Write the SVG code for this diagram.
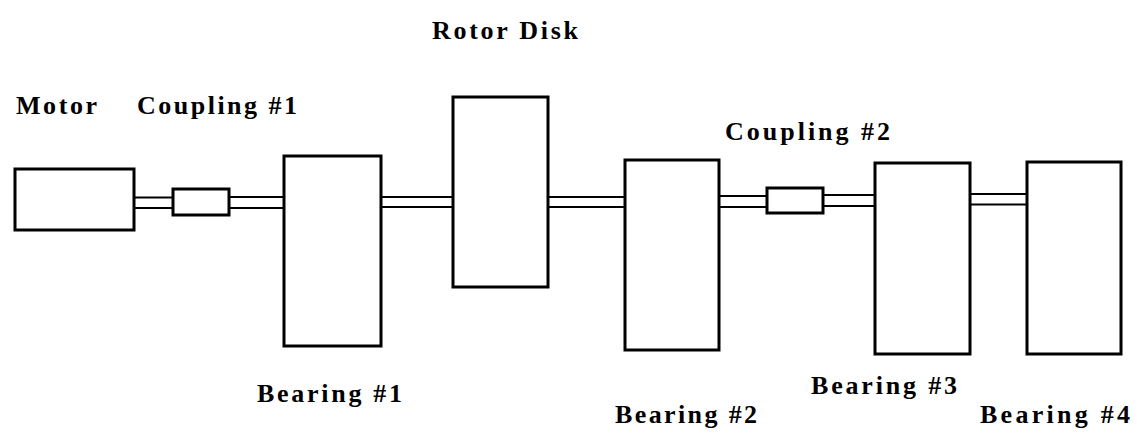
<svg xmlns="http://www.w3.org/2000/svg" width="1137" height="436" viewBox="0 0 1137 436">
<style>
.box{fill:#fff;stroke:#000;stroke-width:3}
.shaft{stroke:#000;stroke-width:2.2;fill:none}
.lbl{font-family:"Liberation Serif","Times New Roman",serif;font-weight:bold;font-size:26px;fill:#000}
</style>
<rect width="1137" height="436" fill="#fff"/>
<g id="connectors">
<path class="shaft" d="M134 197.5H173M134 208H173"/>
<path class="shaft" d="M229 197H284M229 208H284"/>
<path class="shaft" d="M381 197H453M381 207H453"/>
<path class="shaft" d="M548 197H625M548 207H625"/>
<path class="shaft" d="M719 196H767M719 207H767"/>
<path class="shaft" d="M823 195H875M823 206H875"/>
<path class="shaft" d="M970 194H1027M970 204.5H1027"/>
</g>
<g id="motor"><rect class="box" x="15" y="169" width="119" height="61"/><text class="lbl" x="16" y="114" textLength="81" lengthAdjust="spacing">Motor</text></g>
<g id="coupling1"><rect class="box" x="173" y="189" width="56" height="26"/><text class="lbl" x="137" y="114" textLength="160" lengthAdjust="spacing">Coupling #1</text></g>
<g id="bearing1"><rect class="box" x="284" y="156" width="97" height="190"/><text class="lbl" x="257" y="402" textLength="145" lengthAdjust="spacing">Bearing #1</text></g>
<g id="rotor-disk"><rect class="box" x="453" y="97" width="95" height="190"/><text class="lbl" x="432" y="39" textLength="146" lengthAdjust="spacing">Rotor Disk</text></g>
<g id="bearing2"><rect class="box" x="625" y="160" width="94" height="190"/><text class="lbl" x="615" y="423" textLength="142" lengthAdjust="spacing">Bearing #2</text></g>
<g id="coupling2"><rect class="box" x="767" y="188" width="56" height="25"/><text class="lbl" x="725" y="140" textLength="165" lengthAdjust="spacing">Coupling #2</text></g>
<g id="bearing3"><rect class="box" x="875" y="163" width="95" height="191"/><text class="lbl" x="811" y="394" textLength="146" lengthAdjust="spacing">Bearing #3</text></g>
<g id="bearing4"><rect class="box" x="1027" y="162" width="94" height="192"/><text class="lbl" x="980" y="423" textLength="150" lengthAdjust="spacing">Bearing #4</text></g>
</svg>
